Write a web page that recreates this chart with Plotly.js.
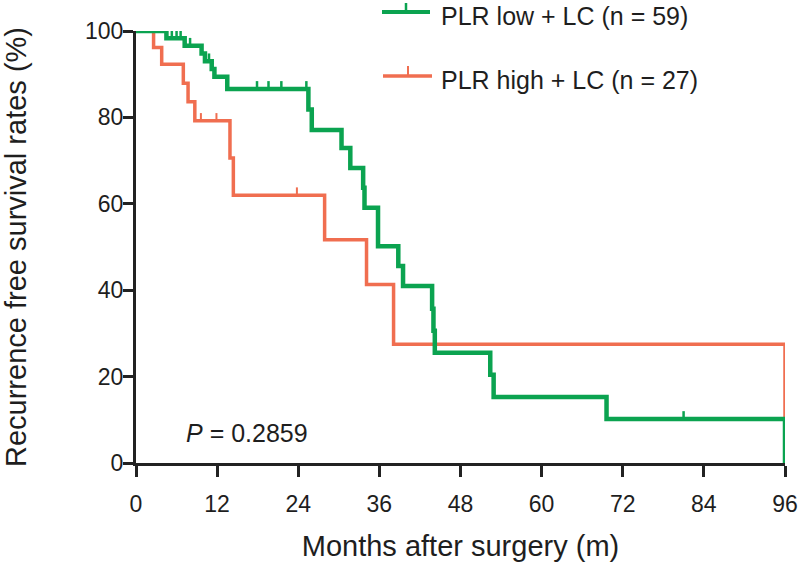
<!DOCTYPE html>
<html>
<head>
<meta charset="utf-8">
<script src="https://cdn.plot.ly/plotly-3.0.1.min.js"></script>
<style>html,body{margin:0;padding:0;background:#fff;}#chart{width:800px;height:576px;}</style>
</head>
<body>
<div id="chart"></div>
<script>
// Kaplan-Meier step data (time in months, survival in %)
var lowTimes  = [0, 4.5, 7.2, 9.7, 10.2, 11.2, 11.6, 13.5, 25.5, 26.0, 30.4, 31.7, 33.6, 33.8, 35.8, 38.8, 39.5, 43.8, 44.0, 44.2, 52.4, 52.9, 69.6, 96.0];
var lowSurv   = [100, 98.3, 96.6, 94.8, 93.0, 91.2, 89.4, 86.6, 81.8, 77.1, 72.9, 68.3, 63.7, 59.1, 50.2, 45.6, 41.0, 35.7, 30.6, 25.5, 20.4, 15.3, 10.2, 0];
var lowCensor = [1.4, 2.4, 3.5, 4.0, 5.3, 6.0, 6.6, 8.0, 10.8, 17.9, 19.6, 21.5, 25.2, 81.0];

var highTimes  = [0, 2.6, 3.8, 7.0, 7.7, 8.7, 13.9, 14.4, 27.9, 34.1, 38.1, 96.0];
var highSurv   = [100, 96.2, 92.3, 87.9, 83.6, 79.2, 70.6, 62.0, 51.7, 41.3, 27.5, 0];
var highCensor = [0.9, 1.5, 2.3, 9.6, 11.9, 23.8];

var seriesNames = ["PLR low + LC (n = 59)", "PLR high + LC (n = 27)"];
var xTicks = [0, 12, 24, 36, 48, 60, 72, 84, 96];
var yTicks = [0, 20, 40, 60, 80, 100];
var pText = "<i>P</i> = 0.2859";

var GREEN = "#0ba350";
var RED = "#f06e50";
var FONT = "Liberation Sans, Arial, Helvetica, sans-serif";
var TXT = "#1e1e1e";
var TICKH = 1.8;

function survAt(times, surv, t) {
  var s = surv[0];
  for (var i = 0; i < times.length; i++) { if (times[i] <= t) s = surv[i]; }
  return s;
}
function censorSegs(times, surv, cens) {
  var xs = [], ys = [];
  cens.forEach(function (c) {
    var s = survAt(times, surv, c);
    xs.push(c, c, null); ys.push(s, s + TICKH, null);
  });
  return {x: xs, y: ys};
}

var hc = censorSegs(highTimes, highSurv, highCensor);
var lc = censorSegs(lowTimes, lowSurv, lowCensor);

var traces = [
  {x: highTimes, y: highSurv, mode: "lines", line: {shape: "hv", color: RED, width: 3.5}, cliponaxis: false, showlegend: false, name: seriesNames[1]},
  {x: hc.x, y: hc.y, mode: "lines", line: {color: RED, width: 2}, cliponaxis: false, showlegend: false, connectgaps: false},
  {x: lowTimes, y: lowSurv, mode: "lines", line: {shape: "hv", color: GREEN, width: 4.5}, cliponaxis: false, showlegend: false, name: seriesNames[0]},
  {x: lc.x, y: lc.y, mode: "lines", line: {color: GREEN, width: 2.5}, cliponaxis: false, showlegend: false, connectgaps: false}
];

var layout = {
  width: 800, height: 576,
  margin: {l: 136, r: 15, t: 31, b: 113},
  paper_bgcolor: "#fff", plot_bgcolor: "#fff",
  font: {family: FONT, color: TXT},
  showlegend: false,
  xaxis: {
    range: [0, 96], tickvals: xTicks, ticktext: xTicks.map(String),
    showline: true, linecolor: "#222", linewidth: 3,
    ticks: "outside", ticklen: 11, tickwidth: 3, tickcolor: "#222",
    ticklabelstandoff: 7,
    showgrid: false, zeroline: false,
    tickfont: {size: 23, family: FONT, color: TXT},
    title: {text: "Months after surgery (m)", font: {size: 29, family: FONT, color: TXT}, standoff: 21}
  },
  yaxis: {
    range: [0, 100], tickvals: yTicks, ticktext: yTicks.map(String),
    showline: true, linecolor: "#222", linewidth: 3,
    ticks: "outside", ticklen: 10, tickwidth: 3, tickcolor: "#222",
    ticklabelstandoff: -5,
    showgrid: false, zeroline: false,
    tickfont: {size: 23, family: FONT, color: TXT},
    title: {text: "Recurrence free survival rates (%)", font: {size: 29, family: FONT, color: TXT}, standoff: 50}
  },
  shapes: [
    {type: "line", xref: "paper", yref: "paper", x0: (382-136)/649, x1: (430-136)/649, y0: (463-12)/432, y1: (463-12)/432, line: {color: GREEN, width: 4}},
    {type: "line", xref: "paper", yref: "paper", x0: (406-136)/649, x1: (406-136)/649, y0: (463-12)/432, y1: (463-3)/432, line: {color: GREEN, width: 2.5}},
    {type: "line", xref: "paper", yref: "paper", x0: (383-136)/649, x1: (432-136)/649, y0: (463-76)/432, y1: (463-76)/432, line: {color: RED, width: 3.5}},
    {type: "line", xref: "paper", yref: "paper", x0: (408-136)/649, x1: (408-136)/649, y0: (463-76)/432, y1: (463-66)/432, line: {color: RED, width: 2}}
  ],
  annotations: [
    {xref: "paper", yref: "paper", x: (439-136)/649, y: (463-16)/432, xanchor: "left", yanchor: "middle", text: seriesNames[0], showarrow: false, font: {size: 25, family: FONT, color: TXT}},
    {xref: "paper", yref: "paper", x: (439-136)/649, y: (463-80)/432, xanchor: "left", yanchor: "middle", text: seriesNames[1], showarrow: false, font: {size: 25, family: FONT, color: TXT}},
    {xref: "x", yref: "y", x: 7.1, y: 7, xanchor: "left", yanchor: "middle", text: pText, showarrow: false, font: {size: 25, family: FONT, color: TXT}}
  ]
};

Plotly.newPlot("chart", traces, layout, {staticPlot: true, displayModeBar: false});
</script>
</body>
</html>
